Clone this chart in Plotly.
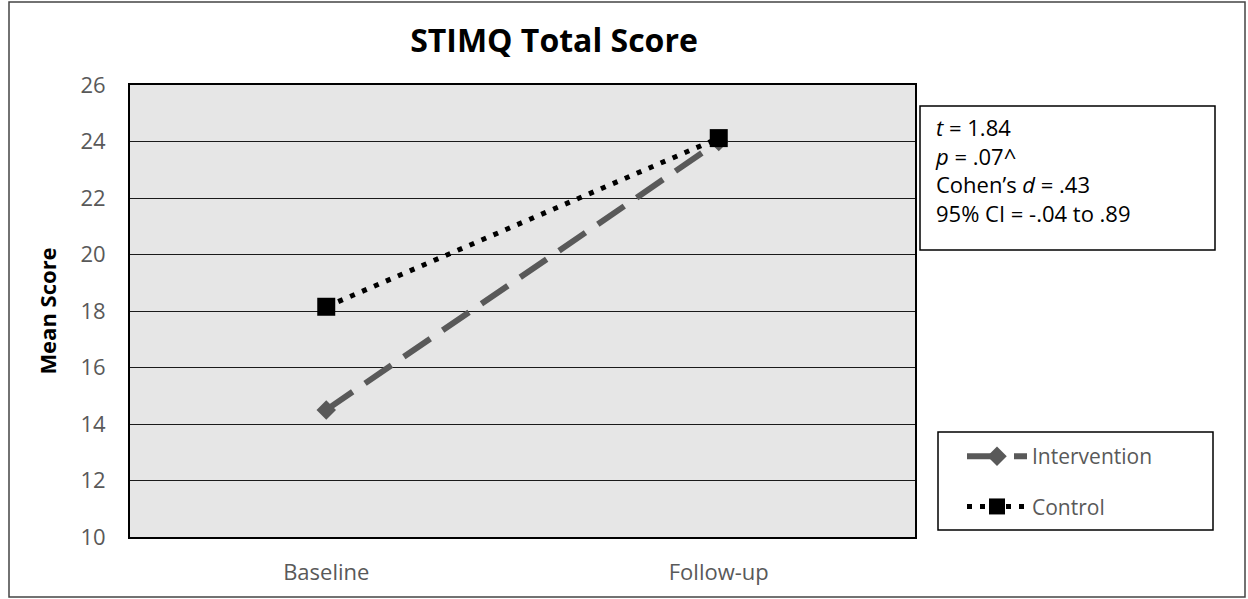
import plotly.graph_objects as go

timepoints = ["Baseline", "Follow-up"]
intervention = [14.5, 24.0]
control = [18.15, 24.12]
y_ticks = [10, 12, 14, 16, 18, 20, 22, 24, 26]
stats_lines = ["<i>t</i> = 1.84", "<i>p</i> = .07^", "Cohen\u2019s <i>d</i> = .43", "95% CI = -.04 to .89"]

FONT = "'Open Sans', Lato, sans-serif"
W, H = 1248, 599
L, R, T, B = 130, 915, 85, 537


def px(x):
    return (x - L) / (R - L)


def py(y):
    return (B - y) / (B - T)


fig = go.Figure()
fig.add_trace(go.Scatter(
    x=timepoints, y=intervention, name="Intervention", mode="lines+markers",
    legendgroup="a",
    line=dict(color="#595959", width=6, dash="32px,15px"),
    marker=dict(symbol="diamond", size=15, color="#595959"),
))
fig.add_trace(go.Scatter(
    x=timepoints, y=control, name="Control", mode="lines+markers",
    legendgroup="b",
    line=dict(color="#000000", width=5, dash="5px,8px"),
    marker=dict(symbol="square", size=18, color="#000000"),
))

fig.update_layout(
    width=W, height=H,
    margin=dict(l=L, r=W - R, t=T, b=H - B, autoexpand=False),
    paper_bgcolor="white", plot_bgcolor="#e6e6e6",
    font=dict(family=FONT, color="#595959", size=20),
    title=dict(text="<b>STIMQ Total Score</b>", x=554 / W, xanchor="center",
               y=1 - 41 / H, yanchor="middle",
               font=dict(size=32, color="#000000", family=FONT)),
    xaxis=dict(range=[-0.5, 1.5], showgrid=False, ticks="", showline=True,
               mirror=True, linecolor="#000000", linewidth=2, automargin=False,
               tickfont=dict(size=22), zeroline=False, ticklabelstandoff=15),
    yaxis=dict(range=[10, 26], tickvals=y_ticks, showgrid=True,
               gridcolor="#1a1a1a", gridwidth=1.3, showline=True, mirror=True,
               linecolor="#000000", linewidth=2, ticks="", zeroline=False,
               automargin=False,
               tickfont=dict(size=22), ticklabelstandoff=18,
               title=dict(text="<b>Mean Score</b>", standoff=18,
                          font=dict(size=22, color="#000000"))),
    legend=dict(x=px(962), y=py(436), xref="paper", yref="paper",
                xanchor="left", yanchor="top",
                borderwidth=0, bgcolor="rgba(0,0,0,0)",
                font=dict(size=21, color="#595959"),
                traceorder="grouped", itemwidth=60, tracegroupgap=20),
    showlegend=True,
)

# outer chart frame
fig.add_shape(type="rect", xref="paper", yref="paper",
              x0=px(9), x1=px(1245), y0=py(597), y1=py(2),
              line=dict(color="#444444", width=1.5))

# legend frame
fig.add_shape(type="rect", xref="paper", yref="paper",
              x0=px(938), x1=px(1213), y0=py(530), y1=py(432),
              line=dict(color="#000000", width=1.5), fillcolor="white", layer="below")

# statistics box
fig.add_shape(type="rect", xref="paper", yref="paper",
              x0=px(920), x1=px(1215), y0=py(250), y1=py(106),
              line=dict(color="#000000", width=1.5), fillcolor="white")
fig.add_annotation(text="<br>".join(stats_lines), xref="paper", yref="paper",
                   x=px(933), y=py(170), align="left",
                   xanchor="left", yanchor="middle", showarrow=False,
                   font=dict(size=22, color="#000000", family=FONT))

fig.write_html("out.html")
